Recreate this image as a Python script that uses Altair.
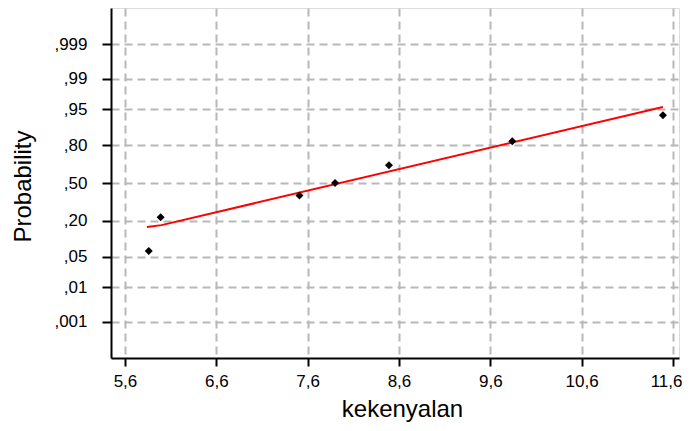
import altair as alt
import pandas as pd
from statistics import NormalDist

# observed values (kekenyalan) and their plotted cumulative probabilities
x_values = [5.86, 5.99, 7.51, 7.90, 8.49, 9.84, 11.49]
p_values = [0.0645, 0.2233, 0.3905, 0.5000, 0.6540, 0.8238, 0.9344]

# fitted reference line
line_x = [5.84, 6.00, 11.49]
line_p = [0.1628, 0.1739, 0.9548]

x_ticks = [5.6, 6.6, 7.6, 8.6, 9.6, 10.6, 11.6]
x_tick_labels = ["5,6", "6,6", "7,6", "8,6", "9,6", "10,6", "11,6"]
y_tick_probs = [0.001, 0.01, 0.05, 0.20, 0.50, 0.80, 0.95, 0.99, 0.999]
y_tick_labels = [",001", ",01", ",05", ",20", ",50", ",80", ",95", ",99", ",999"]

nd = NormalDist()
pts = pd.DataFrame({"x": x_values, "z": [nd.inv_cdf(p) for p in p_values]})
ln = pd.DataFrame({"x": line_x, "z": [nd.inv_cdf(p) for p in line_p]})
y_tick_z = [nd.inv_cdf(p) for p in y_tick_probs]


def chain(vals, labels):
    expr = "''"
    for v, l in zip(vals, labels):
        expr = f"abs(datum.value - {v}) < 0.001 ? '{l}' : ({expr})"
    return expr


FONT = "Liberation Sans"
xscale = alt.Scale(domain=[5.447, 11.666], nice=False, zero=False)
yscale = alt.Scale(domain=[-3.9, 3.9], nice=False, zero=False)

xaxis = alt.Axis(
    values=x_ticks, labelExpr=chain(x_ticks, x_tick_labels), title="kekenyalan",
    grid=True, gridColor="#b8b8b8", gridDash=[8, 5], gridWidth=2,
    domainColor="black", domainWidth=2, tickColor="black", tickWidth=2, tickSize=8,
    labelFont=FONT, labelFontSize=17, labelColor="black", labelPadding=7,
    labelFlush=10, labelFlushOffset=9,
    titleFont=FONT, titleFontSize=24, titleFontWeight="normal", titleColor="black",
    titleX=291, titleY=58, titleBaseline="alphabetic",
)
yaxis = alt.Axis(
    values=y_tick_z, labelExpr=chain(y_tick_z, y_tick_labels), title="Probability",
    grid=True, gridColor="#b8b8b8", gridDash=[8, 5], gridWidth=2,
    domainColor="black", domainWidth=2, tickColor="black", tickWidth=2, tickSize=9,
    labelFont=FONT, labelFontSize=17, labelColor="black", labelPadding=15,
    titleFont=FONT, titleFontSize=24, titleFontWeight="normal", titleColor="black",
    titleX=-81, titleY=178, titleBaseline="alphabetic", titleAngle=-90,
)

line = alt.Chart(ln).mark_line(color="red", strokeWidth=2).encode(
    x=alt.X("x:Q", scale=xscale, axis=xaxis),
    y=alt.Y("z:Q", scale=yscale, axis=yaxis),
)
points = alt.Chart(pts).mark_point(shape="diamond", filled=True, color="black", size=64, opacity=1).encode(
    x=alt.X("x:Q", scale=xscale),
    y=alt.Y("z:Q", scale=yscale),
)

chart = alt.layer(line, points).properties(
    width=568, height=350,
    autosize=alt.AutoSizeParams(type="none"),
    padding={"left": 103, "top": 0, "right": 3, "bottom": 65},
).configure_view(stroke="black", strokeWidth=2).configure(background="white")

chart.save("out.html", embed_options={"renderer": "svg", "actions": False})
